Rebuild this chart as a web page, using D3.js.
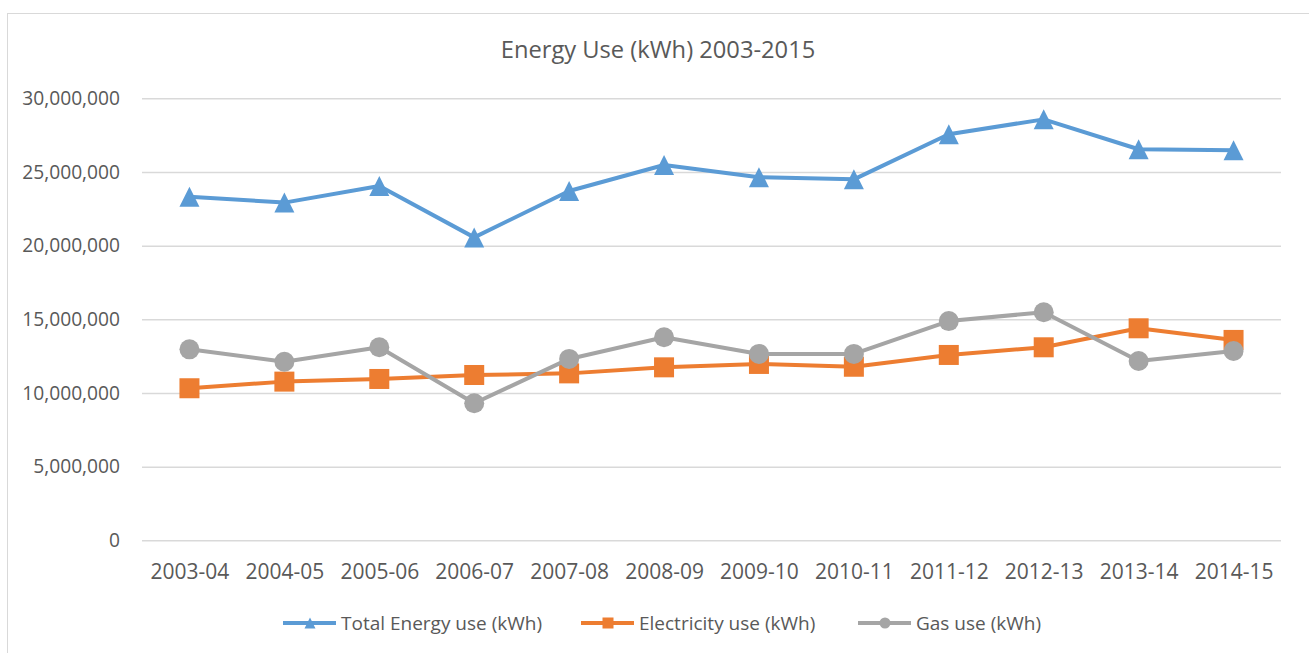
<!DOCTYPE html>
<html>
<head>
<meta charset="utf-8">
<script src="https://cdn.jsdelivr.net/npm/d3@7"></script>
<style>
  body { margin: 0; background: #fff; }
  svg { display: block; font-family: "Open Sans", "Noto Sans", sans-serif; }
</style>
</head>
<body>
<svg id="chartArea" width="1309" height="653"></svg>
<script>
const years = ["2003-04", "2004-05", "2005-06", "2006-07", "2007-08", "2008-09",
               "2009-10", "2010-11", "2011-12", "2012-13", "2013-14", "2014-15"];
const totalUse = [23320000, 22920000, 24050000, 20560000, 23710000, 25470000,
                  24640000, 24500000, 27560000, 28570000, 26540000, 26470000];
const elecUse = [10320000, 10770000, 10950000, 11220000, 11330000, 11740000,
                 11970000, 11780000, 12580000, 13100000, 14390000, 13600000];
const gasUse = [12960000, 12120000, 13100000, 9300000, 12310000, 13780000,
                12650000, 12650000, 14880000, 15480000, 12170000, 12850000];
const yTicks = [0, 5000000, 10000000, 15000000, 20000000, 25000000, 30000000];
const seriesNames = ["Total Energy use (kWh)", "Electricity use (kWh)", "Gas use (kWh)"];

const series = [
    { name: seriesNames[0], values: totalUse, color: "#5B9BD5", marker: "triangle" },
    { name: seriesNames[1], values: elecUse, color: "#ED7D31", marker: "square" },
    { name: seriesNames[2], values: gasUse, color: "#A5A5A5", marker: "circle" }
];

const svg = d3.select("#chartArea");
const textColor = "#595959";
const plotLeft = 142, plotRight = 1281, plotTop = 98.3, plotBottom = 540.3;

// chart frame (cropped on right/bottom)
svg.append("rect")
    .attr("x", 7.5).attr("y", 13.5)
    .attr("width", 1400).attr("height", 700)
    .attr("fill", "none")
    .attr("stroke", "#D9D9D9")
    .attr("stroke-width", 1);

svg.append("text")
    .attr("x", 658).attr("y", 58)
    .attr("text-anchor", "middle")
    .attr("fill", textColor)
    .style("font-size", "23.7px")
    .text("Energy Use (kWh) 2003-2015");

const x = d3.scalePoint().domain(years).range([plotLeft, plotRight]).padding(0.5);
const y = d3.scaleLinear().domain([0, 30000000]).range([plotBottom, plotTop]);

// gridlines + y labels
const yAxis = svg.append("g")
    .attr("transform", `translate(${plotLeft},0)`)
    .call(d3.axisLeft(y).tickValues(yTicks).tickSize(-(plotRight - plotLeft)).tickPadding(22)
        .tickFormat(d3.format(",")));
yAxis.select(".domain").remove();
yAxis.selectAll("line").attr("stroke", "#D9D9D9").attr("stroke-width", 1.5);
yAxis.selectAll("text").attr("fill", textColor).style("font-size", "19.2px")
    .style("font-family", "Open Sans");

// x labels
const xAxis = svg.append("g")
    .attr("transform", `translate(0,${plotBottom})`)
    .call(d3.axisBottom(x).tickSize(0).tickPadding(24));
xAxis.select(".domain").remove();
xAxis.selectAll("text").attr("fill", textColor).style("font-size", "21px")
    .style("font-family", "Open Sans");

function drawMarker(g, type, size, color) {
    if (type === "triangle") {
        g.append("path").attr("d", `M0,${-size / 2}L${size / 2},${size / 2}L${-size / 2},${size / 2}Z`)
            .attr("fill", color);
    } else if (type === "square") {
        g.append("rect").attr("x", -size / 2).attr("y", -size / 2)
            .attr("width", size).attr("height", size).attr("fill", color);
    } else {
        g.append("circle").attr("r", size / 2).attr("fill", color);
    }
}

const line = d3.line().x((d, i) => x(years[i])).y(d => y(d));

series.forEach(s => {
    svg.append("path")
        .datum(s.values)
        .attr("fill", "none")
        .attr("stroke", s.color)
        .attr("stroke-width", 4)
        .attr("stroke-linejoin", "round")
        .attr("d", line);
    s.values.forEach((v, i) => {
        const g = svg.append("g").attr("transform", `translate(${x(years[i])},${y(v)})`);
        drawMarker(g, s.marker, 20, s.color);
    });
});

// legend
const legendX = [283, 581, 858];
series.forEach((s, i) => {
    const g = svg.append("g").attr("transform", `translate(${legendX[i]},623)`);
    g.append("line").attr("x1", 0).attr("x2", 53).attr("y1", 0).attr("y2", 0)
        .attr("stroke", s.color).attr("stroke-width", 4);
    const m = g.append("g").attr("transform", "translate(27,0)");
    drawMarker(m, s.marker, 11, s.color);
    g.append("text").attr("x", 58).attr("y", 7)
        .attr("fill", textColor)
        .style("font-size", "19px")
        .text(s.name);
});
</script>
</body>
</html>
